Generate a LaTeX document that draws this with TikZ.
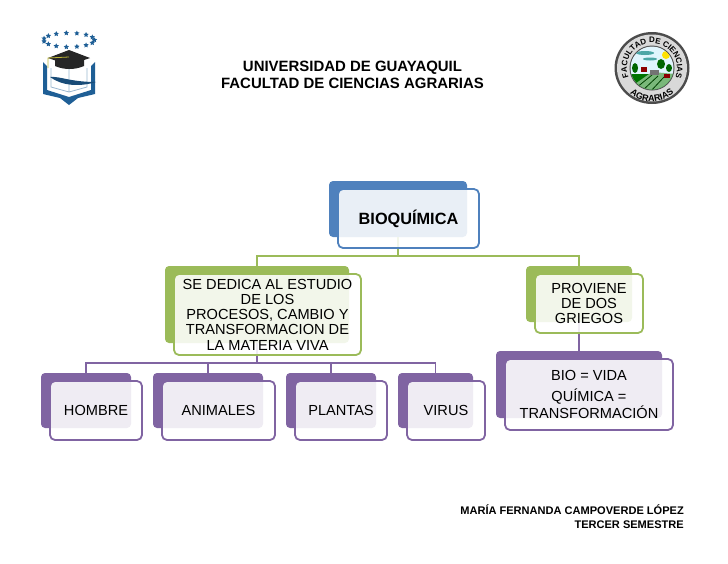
\documentclass[tikz,border=0pt]{standalone}
\usepackage{fontspec}
\setmainfont{Liberation Sans}
\usetikzlibrary{decorations.text,shapes.geometric}
\definecolor{bioblue}{HTML}{4F81BD}
\definecolor{biogreen}{HTML}{9BBB59}
\definecolor{biopurple}{HTML}{8064A2}
\definecolor{logonavy}{HTML}{1F5F96}
\tikzset{
	backbox/.style={rectangle,rounded corners=4pt,inner sep=0pt,fill=#1},
	frontbox/.style={rectangle,rounded corners=5pt,inner sep=0pt,align=center,draw=#1,line width=1.8pt,fill=white,fill opacity=.88,text opacity=1,draw opacity=1,font=\fontsize{14.6}{15.3}\selectfont,text=black},
	link/.style={line width=1.8pt,draw=#1},
	heading/.style={align=center,inner sep=0pt,font=\fontsize{14.95}{17}\selectfont\bfseries},
	signature/.style={align=right,inner sep=0pt,font=\fontsize{11.05}{14}\selectfont\bfseries}
}
\begin{document}
\begin{tikzpicture}[x=1pt,y=-1pt]
	\useasboundingbox (0,0) rectangle (728,563);
	
	\node[heading] (uni) at (352.5,74.5) {UNIVERSIDAD DE GUAYAQUIL\\FACULTAD DE CIENCIAS AGRARIAS};
	\node[signature,anchor=east] (author) at (684,517) {MARÍA FERNANDA CAMPOVERDE LÓPEZ\\TERCER SEMESTRE};
	
	% cajas de fondo
	\node[backbox=bioblue,minimum width=138pt,minimum height=56pt] (bioback) at (398,209) {};
	\node[backbox=biogreen,minimum width=184pt,minimum height=77pt] (dedicaback) at (257,304.5) {};
	\node[backbox=biogreen,minimum width=106pt,minimum height=56pt] (provieneback) at (579,294) {};
	\node[backbox=biopurple,minimum width=90pt,minimum height=55pt] (hombreback) at (86,400.5) {};
	\node[backbox=biopurple,minimum width=110pt,minimum height=55pt] (animalesback) at (208,400.5) {};
	\node[backbox=biopurple,minimum width=90pt,minimum height=55pt] (plantasback) at (331,400.5) {};
	\node[backbox=biopurple,minimum width=75pt,minimum height=55pt] (virusback) at (435.5,400.5) {};
	\node[backbox=biopurple,minimum width=166pt,minimum height=67pt] (griegosback) at (579,384.5) {};
	
	% conectores
	\coordinate (biojoin) at (398,256);
	\coordinate (dedicajoin) at (257,363);
	\draw[link=biogreen] (bioback.south) -- (biojoin);
	\draw[link=biogreen] (biojoin) -| (dedicaback.north);
	\draw[link=biogreen] (biojoin) -| (provieneback.north);
	\draw[link=biopurple] (dedicaback.south) -- (dedicajoin);
	\foreach \child in {hombreback,animalesback,plantasback,virusback}{
		\draw[link=biopurple] (dedicajoin) -| (\child.north);
	}
	\draw[link=biopurple] (provieneback.south) -- (griegosback.north);
	
	% cajas de frente
	\node[frontbox=bioblue,minimum width=141pt,minimum height=59pt,font=\fontsize{16.3}{18}\selectfont\bfseries] (bio) at (408.5,218.5) {BIOQUÍMICA};
	\node[frontbox=biogreen,minimum width=187pt,minimum height=81pt] (dedica) at (267.5,314.5) {SE DEDICA AL ESTUDIO\\DE LOS\\PROCESOS, CAMBIO Y\\TRANSFORMACION DE\\LA MATERIA VIVA};
	\node[frontbox=biogreen,minimum width=108pt,minimum height=59pt] (proviene) at (589,303.5) {PROVIENE\\DE DOS\\GRIEGOS};
	\node[frontbox=biopurple,minimum width=92pt,minimum height=59pt] (hombre) at (96,410.5) {HOMBRE};
	\node[frontbox=biopurple,minimum width=113pt,minimum height=59pt] (animales) at (218.5,410.5) {ANIMALES};
	\node[frontbox=biopurple,minimum width=92pt,minimum height=59pt] (plantas) at (341,410.5) {PLANTAS};
	\node[frontbox=biopurple,minimum width=78pt,minimum height=59pt] (virus) at (446,410.5) {VIRUS};
	\node[frontbox=biopurple,minimum width=168pt,minimum height=71pt] (griegos) at (589,394.5) {BIO = VIDA\\[5.5pt]QUÍMICA =\\TRANSFORMACIÓN};
	
	% escudo izquierdo
	\foreach \ang in {0,24,...,336}{
		\node[star,star points=5,star point ratio=2,fill=logonavy,inner sep=0pt,minimum size=5.5pt] (star\ang) at ({69+25.5*cos(\ang)},{40+7*sin(\ang)}) {};
	}
	\fill[logonavy] (43,62) -- (47,66) -- (47,90) -- (69,97) -- (91,90) -- (91,66) -- (95,62) -- (95,94) -- (78,98) -- (69,105) -- (60,98) -- (43,94) -- cycle;
	\draw[logonavy!45,line width=.8pt] (51,68) -- (51,87) -- (69,92) -- (87,87) -- (87,68) (69,66) -- (69,92);
	\fill[logonavy!80!black] (50,77) .. controls (60,76) and (70,82) .. (96,82) .. controls (80,87) and (62,86) .. (50,77) -- cycle;
	\fill[black!85] (55,60) -- (84,60) -- (84,66) .. controls (75,70) and (64,70) .. (55,66) -- cycle;
	\fill[black!85] (48,58) -- (69,50) -- (90,58) -- (69,65) -- cycle;
	\draw[yellow!70!black,line width=.8pt] (69,57) -- (48,58) -- (48,68);
	
	% sello derecho
	\fill[black!70] (652,68) ellipse (37.5pt and 36pt);
	\fill[black!15] (652,68) ellipse (35pt and 33.5pt);
	\fill[black!70] (652,68) circle (22.5pt);
	\fill[cyan!12] (652,68) circle (21.5pt);
	\begin{scope}
		\clip (652,68) circle (21.5pt);
		\fill[green!45!black] (629,74) rectangle (675,92);
		\fill[green!30!gray!80] (632,86) -- (652,72) -- (676,74) -- (676,92) -- (632,92) -- cycle;
		\draw[green!25!black,line width=.8pt] (636,88) -- (652,75) (642,91) -- (658,76) (650,92) -- (664,77);
		\fill[teal!70] (645,53) ellipse (9pt and 2pt);
		\fill[teal!70] (650,59) ellipse (7pt and 1.5pt);
		\fill[yellow!85!orange] (666,55) circle (4pt);
		\fill[green!40!black] (635,68) ellipse (3pt and 5pt);
		\fill[green!40!black] (661,64) ellipse (4pt and 5pt);
		\fill[green!40!black] (669,68) ellipse (3pt and 4pt);
		\fill[red!55!black] (641,67) rectangle (647,72);
		\fill[red!55!black] (664,74) rectangle (670,78);
		\fill[black!55] (650,70) rectangle (659,75);
	\end{scope}
	\path[decorate,decoration={text along path,text align=center,text={|\fontsize{8}{8}\selectfont\bfseries|FACULTAD DE CIENCIAS}}] (652,68) ++(205:25pt) arc (205:-25:25pt);
	\path[decorate,decoration={text along path,text align=center,text={|\fontsize{9}{9}\selectfont\bfseries|AGRARIAS}}] (652,68) ++(205:33.5pt) arc (205:335:33.5pt);
\end{tikzpicture}
\end{document}
